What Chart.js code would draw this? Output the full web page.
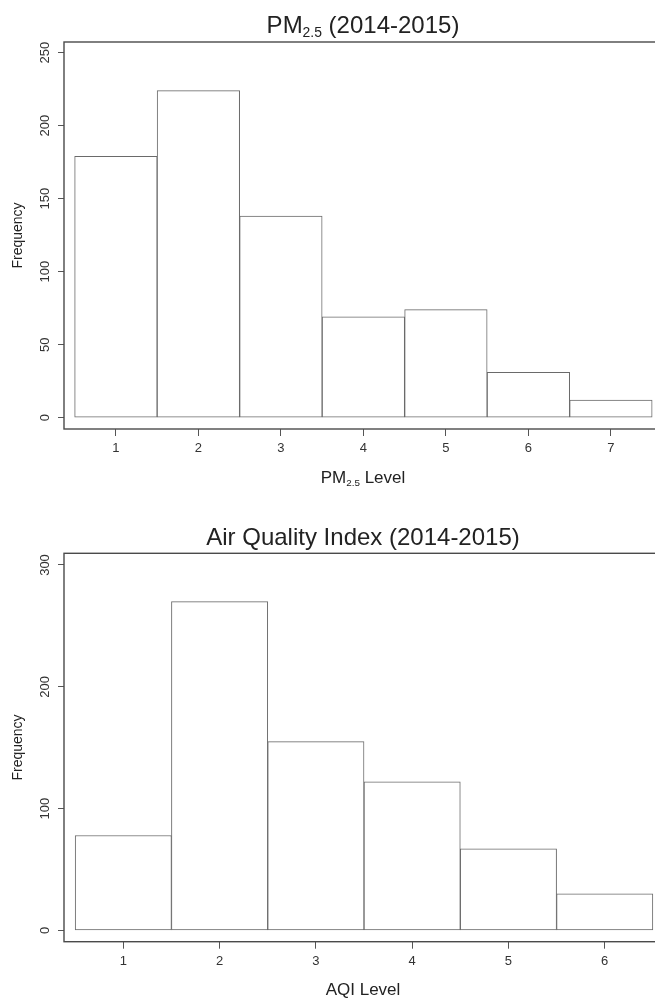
<!DOCTYPE html>
<html>
<head>
<title>PM2.5 and AQI histograms</title>
<style>
  html, body { margin: 0; padding: 0; background: #fff; overflow: hidden; width: 655px; height: 998px; }
  .wrap { position: absolute; left: 0; width: 662px; }
  #pmWrap { top: 0; height: 500px; }
  #aqiWrap { top: 500px; height: 498px; }
</style>
</head>
<body>
<div class="wrap" id="pmWrap"><canvas id="pmChart" width="662" height="500"></canvas></div>
<div class="wrap" id="aqiWrap"><canvas id="aqiChart" width="662" height="498"></canvas></div>
<script src="https://cdn.jsdelivr.net/npm/chart.js"></script>
<script>
// PM2.5 histogram (top)
const pmLevels = [1, 2, 3, 4, 5, 6, 7];
const pmCounts = [179, 224, 138, 69, 74, 31, 12];
const pmYTicks = [0, 50, 100, 150, 200, 250];

// AQI histogram (bottom)
const aqiLevels = [1, 2, 3, 4, 5, 6];
const aqiCounts = [78, 270, 155, 122, 67, 30];
const aqiYTicks = [0, 100, 200, 300];

const FONT = '"Liberation Sans", Arial, Helvetica, sans-serif';
Chart.defaults.font.family = FONT;

// draws text pieces where the second flag marks a subscript
function drawSub(ctx, parts, size, cx, baseline) {
    const subSize = size * 0.58;
    let total = 0;
    parts.forEach(p => {
        ctx.font = (p[1] ? subSize : size) + 'px ' + FONT;
        total += ctx.measureText(p[0]).width;
    });
    let x = cx - total / 2;
    ctx.textAlign = 'left';
    ctx.textBaseline = 'alphabetic';
    parts.forEach(p => {
        ctx.font = (p[1] ? subSize : size) + 'px ' + FONT;
        ctx.fillText(p[0], x, baseline + (p[1] ? size * 0.17 : 0));
        x += ctx.measureText(p[0]).width;
    });
}

const framePlugin = {
    id: 'frame',
    afterDraw(chart, args, o) {
        const { ctx, chartArea: a } = chart;
        const cx = 363;
        ctx.save();
        ctx.strokeStyle = '#4a4a4a';
        ctx.lineWidth = 1.4;
        ctx.strokeRect(a.left, a.top, a.right - a.left, a.bottom - a.top);
        ctx.fillStyle = '#222';
        drawSub(ctx, o.title, 24, cx, o.titleY);
        drawSub(ctx, o.xTitle, 17, cx, o.xTitleY);
        ctx.translate(18.5, (a.top + a.bottom) / 2);
        ctx.rotate(-Math.PI / 2);
        ctx.font = '14px ' + FONT;
        ctx.textAlign = 'center';
        ctx.textBaseline = 'middle';
        ctx.fillText('Frequency', 0, 0);
        ctx.restore();
    }
};

function makeHist(id, levels, counts, yTicks, o) {
    const ctx = document.getElementById(id).getContext('2d');
    return new Chart(ctx, {
        type: 'bar',
        data: {
            datasets: [{
                data: levels.map((x, i) => ({ x: x, y: counts[i] })),
                backgroundColor: '#ffffff',
                borderColor: '#6a6a6a',
                borderWidth: 1,
                borderSkipped: false,
                barPercentage: 1,
                categoryPercentage: 1
            }]
        },
        options: {
            responsive: false,
            animation: false,
            layout: { padding: { top: o.padTop, right: 2, left: 0, bottom: 0 } },
            plugins: {
                legend: { display: false },
                tooltip: { enabled: false },
                frame: { title: o.title, titleY: o.titleY, xTitle: o.xTitle, xTitleY: o.xTitleY }
            },
            scales: {
                x: {
                    type: 'linear',
                    offset: false,
                    min: o.xMin,
                    max: o.xMax,
                    afterBuildTicks: s => { s.ticks = levels.map(v => ({ value: v })); },
                    afterFit: s => { s.height = o.xAxisHeight; },
                    grid: { offset: false, drawOnChartArea: false, tickLength: 7, color: '#555' },
                    border: { display: false },
                    ticks: { font: { size: 13 }, color: '#333', padding: 5, maxRotation: 0 }
                },
                y: {
                    min: o.yMin,
                    max: o.yMax,
                    afterBuildTicks: s => { s.ticks = yTicks.map(v => ({ value: v })); },
                    afterFit: s => { s.width = 64; },
                    grid: { drawOnChartArea: false, tickLength: 6, color: '#555' },
                    border: { display: false },
                    ticks: { font: { size: 13 }, color: '#333', minRotation: 90, maxRotation: 90,
                             crossAlign: 'center', padding: 2 }
                }
            }
        },
        plugins: [framePlugin]
    });
}

makeHist('pmChart', pmLevels, pmCounts, pmYTicks, {
    xMin: 0.371, xMax: 7.595, yMin: -7.72, yMax: 257.25,
    padTop: 42, xAxisHeight: 71,
    title: [['PM', 0], ['2.5', 1], [' (2014-2015)', 0]], titleY: 33,
    xTitle: [['PM', 0], ['2.5', 1], [' Level', 0]], xTitleY: 483
});

makeHist('aqiChart', aqiLevels, aqiCounts, aqiYTicks, {
    xMin: 0.384, xMax: 6.574, yMin: -9.19, yMax: 309.6,
    padTop: 53.3, xAxisHeight: 56.3,
    title: [['Air Quality Index (2014-2015)', 0]], titleY: 45,
    xTitle: [['AQI Level', 0]], xTitleY: 495
});
</script>
</body>
</html>
